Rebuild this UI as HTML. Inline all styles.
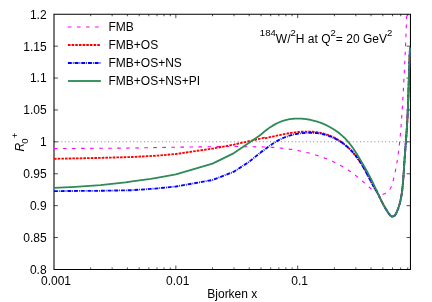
<!DOCTYPE html>
<html><head><meta charset="utf-8"><style>
html,body{margin:0;padding:0;background:#fff}
svg{display:block}
svg{will-change:transform}
text{font-family:"Liberation Sans",sans-serif;font-size:12px;fill:#000}
.s{font-size:9.6px}
</style></head><body>
<svg width="432" height="302" viewBox="0 0 432 302">
<rect width="432" height="302" fill="#fff"/>
<path d="M54.0,141.8H410.45" stroke="#909090" stroke-width="1.1" stroke-dasharray="1.1,2.5" fill="none"/>
<path d="M54.0,14.25H410.45V269.45H54.0Z" stroke="#000" stroke-width="1.05" fill="none"/>
<path d="M54.00,237.55h3.9M410.45,237.55h-3.9M54.00,205.65h3.9M410.45,205.65h-3.9M54.00,173.75h3.9M410.45,173.75h-3.9M54.00,141.85h3.9M410.45,141.85h-3.9M54.00,109.95h3.9M410.45,109.95h-3.9M54.00,78.05h3.9M410.45,78.05h-3.9M54.00,46.15h3.9M410.45,46.15h-3.9M90.68,269.45v-2.0M90.68,14.25v2.0M112.14,269.45v-2.0M112.14,14.25v2.0M127.36,269.45v-2.0M127.36,14.25v2.0M139.17,269.45v-2.0M139.17,14.25v2.0M148.82,269.45v-2.0M148.82,14.25v2.0M156.98,269.45v-2.0M156.98,14.25v2.0M164.04,269.45v-2.0M164.04,14.25v2.0M170.27,269.45v-2.0M170.27,14.25v2.0M175.85,269.45v-3.9M175.85,14.25v3.9M212.53,269.45v-2.0M212.53,14.25v2.0M233.99,269.45v-2.0M233.99,14.25v2.0M249.21,269.45v-2.0M249.21,14.25v2.0M261.02,269.45v-2.0M261.02,14.25v2.0M270.67,269.45v-2.0M270.67,14.25v2.0M278.83,269.45v-2.0M278.83,14.25v2.0M285.89,269.45v-2.0M285.89,14.25v2.0M292.12,269.45v-2.0M292.12,14.25v2.0M297.70,269.45v-3.9M297.70,14.25v3.9M334.38,269.45v-2.0M334.38,14.25v2.0M355.84,269.45v-2.0M355.84,14.25v2.0M371.06,269.45v-2.0M371.06,14.25v2.0M382.87,269.45v-2.0M382.87,14.25v2.0M392.52,269.45v-2.0M392.52,14.25v2.0M400.68,269.45v-2.0M400.68,14.25v2.0M407.74,269.45v-2.0M407.74,14.25v2.0" stroke="#000" stroke-width="0.7" fill="none"/>
<path d="M54.00,148.60 L132.00,148.05 L158.00,147.50 L205.00,146.80 L233.00,146.45 L260.00,146.90 L260.00,146.90 L261.10,146.89 L262.10,146.91 L263.11,146.93 L264.11,146.96 L265.12,147.00 L266.12,147.03 L267.12,147.08 L268.13,147.12 L269.13,147.17 L270.14,147.22 L271.14,147.28 L272.14,147.35 L273.15,147.41 L274.15,147.48 L275.15,147.56 L276.15,147.64 L277.15,147.72 L278.16,147.81 L279.16,147.91 L280.16,148.00 L281.16,148.11 L282.16,148.21 L283.15,148.33 L284.15,148.44 L285.15,148.56 L286.15,148.69 L287.14,148.82 L288.14,148.96 L289.14,149.10 L290.13,149.24 L291.12,149.39 L292.12,149.55 L293.11,149.71 L294.10,149.88 L295.09,150.05 L296.08,150.23 L297.07,150.41 L298.06,150.60 L299.04,150.79 L300.03,150.99 L301.01,151.19 L301.99,151.40 L302.98,151.62 L303.96,151.84 L304.94,152.06 L305.91,152.30 L306.89,152.53 L307.87,152.78 L308.84,153.03 L309.81,153.28 L310.78,153.55 L311.75,153.81 L312.72,154.09 L313.68,154.37 L314.65,154.66 L315.61,154.95 L316.57,155.25 L317.52,155.55 L318.48,155.87 L319.43,156.19 L320.38,156.51 L321.33,156.84 L322.28,157.18 L323.22,157.53 L324.16,157.88 L325.10,158.24 L326.04,158.61 L326.97,158.98 L327.90,159.36 L328.83,159.75 L329.75,160.14 L330.68,160.54 L331.59,160.95 L332.51,161.37 L333.42,161.79 L334.33,162.22 L335.23,162.66 L336.13,163.11 L337.03,163.56 L337.92,164.02 L338.81,164.49 L339.70,164.97 L340.58,165.45 L341.46,165.94 L342.33,166.44 L343.20,166.95 L344.06,167.46 L344.92,167.99 L345.77,168.52 L346.62,169.06 L347.46,169.60 L348.30,170.16 L349.13,170.72 L349.96,171.29 L350.79,171.87 L351.60,172.45 L352.42,173.04 L353.22,173.64 L354.03,174.24 L354.83,174.85 L355.62,175.47 L356.41,176.09 L357.20,176.72 L357.98,177.35 L358.76,177.99 L359.53,178.63 L360.30,179.27 L361.07,179.92 L361.83,180.57 L362.60,181.23 L363.35,181.89 L364.11,182.55 L364.86,183.22 L365.61,183.89 L366.36,184.56 L367.11,185.23 L367.86,185.90 L368.60,186.58 L369.34,187.26 L370.08,187.94 L370.83,188.61 L371.57,189.28 L372.33,189.94 L373.10,190.59 L373.89,191.21 L374.70,191.80 L375.54,192.36 L376.41,192.87 L377.30,193.32" stroke="#ff00ff" stroke-width="1.1" stroke-dasharray="3.6,5.43" fill="none"/>
<path d="M377.30,193.32 L378.23,193.70 L379.19,194.00 L380.18,194.20 L381.18,194.29 L382.18,194.27 L383.18,194.15 L384.15,193.91 L385.09,193.55 L385.99,193.10 L386.83,192.54 L387.61,191.91 L388.33,191.22 L389.00,190.46 L389.60,189.66 L390.14,188.81 L390.63,187.94 L391.07,187.03 L391.47,186.11 L391.83,185.17 L392.16,184.22 L392.46,183.26 L392.74,182.29 L393.00,181.32 L393.25,180.35 L393.49,179.38 L393.73,178.40 L393.96,177.42 L394.19,176.44 L394.41,175.46 L394.63,174.48 L394.85,173.50 L395.06,172.52 L395.26,171.53 L395.46,170.55 L395.66,169.56 L395.85,168.58 L396.04,167.59 L396.22,166.60 L396.40,165.61 L396.58,164.62 L396.75,163.63 L396.92,162.64 L397.08,161.65 L397.24,160.66 L397.40,159.66 L397.55,158.67 L397.70,157.68 L397.85,156.68 L397.99,155.69 L398.13,154.69 L398.27,153.70 L398.40,152.70 L398.53,151.70 L398.65,150.70 L398.78,149.71 L398.90,148.71 L399.02,147.71 L399.13,146.71 L399.25,145.71 L399.36,144.71 L399.46,143.72 L399.57,142.72 L399.67,141.72 L399.78,140.72 L399.87,139.72 L399.97,138.72 L400.07,137.72 L400.16,136.71 L400.25,135.71 L400.34,134.71 L400.43,133.71 L400.52,132.71 L400.61,131.71 L400.69,130.71 L400.78,129.71 L400.86,128.70 L400.94,127.70 L401.02,126.70 L401.10,125.70 L401.18,124.70 L401.25,123.69 L401.33,122.69 L401.40,121.69 L401.48,120.69 L401.55,119.68 L401.62,118.68 L401.69,117.68 L401.76,116.68 L401.83,115.67 L401.90,114.67 L401.96,113.67 L402.03,112.66 L402.10,111.66 L402.16,110.66 L402.22,109.66 L402.29,108.65 L402.35,107.65 L402.41,106.65 L402.47,105.64 L402.53,104.64 L402.59,103.64 L402.65,102.63 L402.71,101.63 L402.77,100.63 L402.83,99.62 L402.88,98.62 L402.94,97.61 L403.00,96.61 L403.05,95.61 L403.11,94.60 L403.16,93.60 L403.22,92.60 L403.27,91.59 L403.33,90.59 L403.38,89.59 L403.44,88.58 L403.49,87.58 L403.55,86.57 L403.60,85.57 L403.65,84.57 L403.71,83.56 L403.76,82.56 L403.81,81.56 L403.86,80.55 L403.92,79.55 L403.97,78.55 L404.02,77.54 L404.07,76.54 L404.12,75.53 L404.18,74.53 L404.23,73.53 L404.28,72.52 L404.33,71.52 L404.38,70.51 L404.43,69.51 L404.48,68.51 L404.53,67.50 L404.58,66.50 L404.63,65.49 L404.68,64.49 L404.73,63.49 L404.77,62.48 L404.82,61.48 L404.87,60.48 L404.92,59.47 L404.96,58.47 L405.01,57.46 L405.06,56.46 L405.11,55.45 L405.15,54.45 L405.20,53.45 L405.24,52.44 L405.29,51.44 L405.33,50.43 L405.38,49.43 L405.42,48.43 L405.47,47.42 L405.51,46.42 L405.55,45.41 L405.59,44.41 L405.64,43.41 L405.68,42.40 L405.72,41.40 L405.76,40.39 L405.80,39.39 L405.85,38.38 L405.89,37.38 L405.93,36.38 L405.97,35.37 L406.00,34.37 L406.04,33.36 L406.08,32.36 L406.12,31.35 L406.16,30.35 L406.20,29.34 L406.23,28.34 L406.27,27.34 L406.31,26.33 L406.34,25.33 L406.38,24.32 L406.41,23.32 L406.45,22.31 L406.48,21.31 L406.52,20.30 L406.55,19.30 L406.58,18.29 L406.62,17.29 L406.65,16.29 L406.68,15.28 L406.71,14.28" stroke="#ff00ff" stroke-width="1.1" stroke-dasharray="3.6,5.44" stroke-dashoffset="3.73" fill="none"/>
<path d="M54.00,158.80 L100.40,157.90 L132.00,157.00 L158.00,155.60 L175.85,154.00 L212.50,148.60 L233.97,144.60 L248.80,141.25 L263.70,137.90 L263.70,138.18 L264.91,138.28 L265.90,138.07 L266.89,137.85 L267.87,137.63 L268.86,137.41 L269.85,137.19 L270.83,136.97 L271.82,136.75 L272.81,136.53 L273.79,136.31 L274.78,136.10 L275.77,135.88 L276.75,135.66 L277.74,135.45 L278.73,135.24 L279.72,135.03 L280.71,134.83 L281.70,134.63 L282.69,134.43 L283.68,134.23 L284.67,134.04 L285.66,133.86 L286.66,133.68 L287.65,133.50 L288.65,133.33 L289.65,133.16 L290.64,133.00 L291.64,132.85 L292.64,132.70 L293.64,132.56 L294.65,132.43 L295.65,132.31 L296.65,132.19 L297.66,132.08 L298.66,131.98 L299.67,131.89 L300.68,131.81 L301.68,131.74 L302.69,131.68 L303.70,131.63 L304.71,131.59 L305.72,131.57 L306.73,131.55 L307.74,131.55 L308.75,131.56 L309.76,131.58 L310.77,131.62 L311.78,131.67 L312.79,131.73 L313.80,131.81 L314.80,131.91 L315.81,132.02 L316.81,132.15 L317.81,132.29 L318.81,132.46 L319.80,132.64 L320.79,132.83 L321.78,133.05 L322.76,133.29 L323.74,133.54 L324.71,133.81 L325.68,134.11 L326.64,134.42 L327.59,134.75 L328.54,135.10 L329.48,135.47 L330.42,135.86 L331.34,136.26 L332.26,136.68 L333.17,137.12 L334.07,137.58 L334.97,138.05 L335.85,138.53 L336.73,139.03 L337.60,139.55 L338.46,140.08 L339.31,140.62 L340.15,141.18 L340.98,141.75 L341.81,142.34 L342.62,142.94 L343.43,143.55 L344.22,144.17 L345.01,144.81 L345.79,145.45 L346.55,146.11 L347.31,146.78 L348.06,147.46 L348.79,148.15 L349.52,148.85 L350.24,149.56 L350.94,150.29 L351.64,151.02 L352.32,151.76 L353.00,152.51 L353.66,153.28 L354.32,154.05 L354.96,154.83 L355.59,155.62 L356.21,156.41 L356.82,157.22 L357.42,158.03 L358.01,158.85 L358.59,159.68 L359.17,160.51 L359.73,161.35 L360.28,162.19 L360.83,163.04 L361.37,163.90 L361.90,164.76 L362.43,165.62 L362.95,166.49 L363.46,167.36 L363.97,168.23 L364.47,169.11 L364.96,169.99 L365.45,170.87 L365.94,171.76 L366.42,172.65 L366.90,173.53 L367.38,174.43 L367.85,175.32 L368.33,176.21 L368.79,177.11 L369.26,178.00 L369.73,178.90 L370.20,179.79 L370.66,180.69 L371.13,181.59 L371.60,182.48 L372.07,183.38 L372.53,184.27 L373.01,185.17 L373.48,186.06 L373.96,186.95 L374.44,187.84 L374.92,188.73 L375.41,189.61 L375.90,190.49 L376.73,190.90 L377.15,191.81 L377.57,192.73 L377.98,193.64 L378.40,194.55 L378.82,195.46 L379.24,196.37 L379.67,197.28 L380.10,198.19 L380.53,199.09 L380.97,199.99 L381.41,200.89 L381.86,201.79 L382.32,202.69 L382.78,203.57 L383.25,204.46 L383.73,205.34 L384.22,206.22 L384.71,207.09 L385.22,207.95 L385.74,208.81 L386.27,209.67 L386.80,210.52 L387.34,211.36 L387.88,212.21 L388.43,213.05 L389.00,213.87 L389.61,214.67 L390.28,215.41 L391.05,216.06 L391.95,216.47 L392.94,216.53 L393.86,216.14 L394.64,215.51 L395.29,214.75 L395.83,213.91 L396.30,213.02 L396.71,212.11 L397.11,211.19 L397.50,210.26 L397.86,209.33 L398.21,208.39 L398.54,207.44 L398.86,206.49 L399.16,205.53 L399.45,204.57 L399.72,203.60 L399.97,202.63 L400.22,201.66 L400.44,200.68 L400.66,199.70 L400.86,198.72 L401.05,197.74 L401.23,196.75 L401.41,195.76 L401.57,194.77 L401.72,193.78 L401.86,192.79 L401.99,191.79 L402.12,190.80 L402.24,189.80 L402.36,188.81 L402.47,187.81 L402.58,186.81 L402.68,185.81 L402.77,184.81 L402.87,183.82 L402.96,182.82 L403.04,181.82 L403.12,180.82 L403.20,179.82 L403.28,178.82 L403.35,177.82 L403.42,176.82 L403.49,175.82 L403.56,174.81 L403.63,173.81 L403.69,172.81 L403.76,171.81 L403.82,170.81 L403.88,169.81 L403.95,168.81 L404.01,167.81 L404.08,166.81 L404.14,165.80 L404.21,164.80 L404.27,163.80 L404.34,162.80 L404.41,161.80 L404.48,160.80 L404.55,159.80 L404.62,158.80 L404.70,157.80 L404.77,156.80 L404.84,155.80 L404.92,154.80 L404.99,153.80 L405.07,152.80 L405.14,151.80 L405.22,150.80 L405.29,149.80 L405.37,148.80 L405.44,147.80 L405.52,146.80 L405.59,145.79 L405.67,144.79 L405.74,143.79 L405.82,142.79 L405.89,141.79 L405.97,140.79 L406.04,139.79 L406.11,138.79 L406.19,137.79 L406.26,136.79 L406.33,135.79 L406.40,134.79 L406.47,133.79 L406.54,132.79 L406.61,131.79 L406.68,130.79 L406.75,129.79 L406.81,128.79 L406.88,127.78 L406.94,126.78 L407.00,125.78 L407.06,124.78 L407.12,123.78 L407.18,122.78 L407.24,121.78 L407.29,120.77 L407.35,119.77 L407.40,118.77 L407.45,117.77 L407.50,116.77 L407.55,115.77 L407.60,114.76 L407.65,113.76 L407.69,112.76 L407.74,111.76 L407.78,110.76 L407.83,109.75 L407.87,108.75 L407.91,107.75 L407.95,106.75 L407.99,105.74 L408.03,104.74 L408.07,103.74 L408.10,102.74 L408.14,101.73 L408.18,100.73 L408.21,99.73 L408.25,98.73 L408.28,97.72 L408.31,96.72 L408.35,95.72 L408.38,94.72 L408.41,93.71 L408.44,92.71 L408.48,91.71 L408.51,90.71 L408.54,89.70 L408.57,88.70 L408.60,87.70 L408.63,86.70 L408.66,85.69 L408.69,84.69 L408.72,83.69 L408.75,82.68 L408.78,81.68 L408.81,80.68 L408.84,79.68 L408.87,78.67 L408.90,77.67 L408.93,76.67 L408.96,75.67 L408.99,74.66 L409.02,73.66 L409.05,72.66 L409.08,71.65 L409.12,70.65 L409.15,69.65 L409.18,68.65 L409.21,67.64 L409.25,66.64 L409.28,65.64 L409.32,64.64 L409.35,63.63 L409.39,62.63 L409.43,61.63 L409.46,60.63 L409.50,59.62 L409.54,58.62 L409.58,57.62 L409.62,56.62 L409.66,55.62 L409.70,54.61 L409.75,53.61 L409.79,52.61 L409.83,51.61 L409.88,50.60 L409.93,49.60 L409.98,48.60 L410.03,47.60" stroke="#ff0000" stroke-width="1.85" stroke-dasharray="2.6,1.07" fill="none"/>
<path d="M54.00,191.10 L100.40,190.80 L132.00,190.20 L150.70,188.90 L158.00,188.30 L175.85,186.50 L212.50,180.00 L233.97,171.70 L248.80,162.00 L260.80,152.30 L260.80,152.36 L261.67,151.85 L262.46,151.23 L263.26,150.61 L264.06,149.99 L264.86,149.38 L265.67,148.77 L266.47,148.16 L267.29,147.56 L268.10,146.96 L268.92,146.37 L269.74,145.79 L270.57,145.21 L271.40,144.64 L272.24,144.08 L273.09,143.52 L273.94,142.98 L274.79,142.44 L275.65,141.91 L276.52,141.40 L277.40,140.89 L278.28,140.40 L279.17,139.92 L280.07,139.46 L280.97,139.01 L281.88,138.57 L282.80,138.15 L283.72,137.75 L284.66,137.36 L285.60,136.99 L286.54,136.64 L287.50,136.30 L288.45,135.98 L289.42,135.68 L290.39,135.39 L291.36,135.12 L292.34,134.87 L293.32,134.63 L294.30,134.41 L295.29,134.20 L296.28,134.01 L297.28,133.83 L298.27,133.66 L299.27,133.51 L300.27,133.38 L301.28,133.25 L302.28,133.15 L303.28,133.05 L304.29,132.97 L305.30,132.90 L306.31,132.84 L307.32,132.80 L308.33,132.77 L309.34,132.75 L310.35,132.75 L311.36,132.77 L312.36,132.80 L313.37,132.84 L314.38,132.90 L315.39,132.98 L316.39,133.08 L317.40,133.20 L318.40,133.33 L319.40,133.49 L320.39,133.66 L321.38,133.85 L322.37,134.06 L323.35,134.29 L324.33,134.54 L325.31,134.80 L326.28,135.08 L327.24,135.39 L328.20,135.70 L329.15,136.04 L330.10,136.39 L331.04,136.76 L331.97,137.15 L332.90,137.56 L333.81,137.98 L334.73,138.41 L335.63,138.86 L336.52,139.33 L337.41,139.82 L338.29,140.32 L339.16,140.83 L340.02,141.36 L340.87,141.90 L341.71,142.46 L342.54,143.04 L343.36,143.62 L344.17,144.23 L344.97,144.84 L345.76,145.47 L346.54,146.11 L347.31,146.77 L348.07,147.44 L348.81,148.12 L349.55,148.81 L350.27,149.52 L350.97,150.24 L351.67,150.97 L352.35,151.72 L353.03,152.47 L353.69,153.24 L354.33,154.01 L354.97,154.79 L355.60,155.59 L356.21,156.39 L356.82,157.20 L357.41,158.01 L358.00,158.84 L358.57,159.67 L359.14,160.50 L359.69,161.34 L360.24,162.19 L360.79,163.04 L361.32,163.90 L361.85,164.76 L362.37,165.63 L362.88,166.50 L363.39,167.37 L363.89,168.25 L364.39,169.12 L364.89,170.01 L365.37,170.89 L365.86,171.78 L366.34,172.66 L366.82,173.55 L367.30,174.44 L367.77,175.34 L368.24,176.23 L368.71,177.12 L369.18,178.02 L369.65,178.91 L370.12,179.81 L370.59,180.70 L371.06,181.59 L371.53,182.49 L372.00,183.38 L372.47,184.27 L372.95,185.16 L373.43,186.05 L373.91,186.94 L374.40,187.83 L374.89,188.71 L375.38,189.59 L375.88,190.47 L376.73,190.90 L377.15,191.81 L377.57,192.73 L377.98,193.64 L378.40,194.55 L378.82,195.46 L379.24,196.37 L379.67,197.28 L380.10,198.19 L380.53,199.09 L380.97,199.99 L381.41,200.89 L381.86,201.79 L382.32,202.69 L382.78,203.57 L383.25,204.46 L383.73,205.34 L384.22,206.22 L384.71,207.09 L385.22,207.95 L385.74,208.81 L386.27,209.67 L386.80,210.52 L387.34,211.36 L387.88,212.21 L388.43,213.05 L389.00,213.87 L389.61,214.67 L390.28,215.41 L391.05,216.06 L391.95,216.47 L392.94,216.53 L393.86,216.14 L394.64,215.51 L395.29,214.75 L395.83,213.91 L396.30,213.02 L396.71,212.11 L397.11,211.19 L397.50,210.26 L397.86,209.33 L398.21,208.39 L398.54,207.44 L398.86,206.49 L399.16,205.53 L399.45,204.57 L399.72,203.60 L399.97,202.63 L400.22,201.66 L400.44,200.68 L400.66,199.70 L400.86,198.72 L401.05,197.74 L401.23,196.75 L401.41,195.76 L401.57,194.77 L401.72,193.78 L401.86,192.79 L401.99,191.79 L402.12,190.80 L402.24,189.80 L402.36,188.81 L402.47,187.81 L402.58,186.81 L402.68,185.81 L402.77,184.81 L402.87,183.82 L402.96,182.82 L403.04,181.82 L403.12,180.82 L403.20,179.82 L403.28,178.82 L403.35,177.82 L403.42,176.82 L403.49,175.82 L403.56,174.81 L403.63,173.81 L403.69,172.81 L403.76,171.81 L403.82,170.81 L403.88,169.81 L403.95,168.81 L404.01,167.81 L404.08,166.81 L404.14,165.80 L404.21,164.80 L404.27,163.80 L404.34,162.80 L404.41,161.80 L404.48,160.80 L404.55,159.80 L404.62,158.80 L404.70,157.80 L404.77,156.80 L404.84,155.80 L404.92,154.80 L404.99,153.80 L405.07,152.80 L405.14,151.80 L405.22,150.80 L405.29,149.80 L405.37,148.80 L405.44,147.80 L405.52,146.80 L405.59,145.79 L405.67,144.79 L405.74,143.79 L405.82,142.79 L405.89,141.79 L405.97,140.79 L406.04,139.79 L406.11,138.79 L406.19,137.79 L406.26,136.79 L406.33,135.79 L406.40,134.79 L406.47,133.79 L406.54,132.79 L406.61,131.79 L406.68,130.79 L406.75,129.79 L406.81,128.79 L406.88,127.78 L406.94,126.78 L407.00,125.78 L407.06,124.78 L407.12,123.78 L407.18,122.78 L407.24,121.78 L407.29,120.77 L407.35,119.77 L407.40,118.77 L407.45,117.77 L407.50,116.77 L407.55,115.77 L407.60,114.76 L407.65,113.76 L407.69,112.76 L407.74,111.76 L407.78,110.76 L407.83,109.75 L407.87,108.75 L407.91,107.75 L407.95,106.75 L407.99,105.74 L408.03,104.74 L408.07,103.74 L408.10,102.74 L408.14,101.73 L408.18,100.73 L408.21,99.73 L408.25,98.73 L408.28,97.72 L408.31,96.72 L408.35,95.72 L408.38,94.72 L408.41,93.71 L408.44,92.71 L408.48,91.71 L408.51,90.71 L408.54,89.70 L408.57,88.70 L408.60,87.70 L408.63,86.70 L408.66,85.69 L408.69,84.69 L408.72,83.69 L408.75,82.68 L408.78,81.68 L408.81,80.68 L408.84,79.68 L408.87,78.67 L408.90,77.67 L408.93,76.67 L408.96,75.67 L408.99,74.66 L409.02,73.66 L409.05,72.66 L409.08,71.65 L409.12,70.65 L409.15,69.65 L409.18,68.65 L409.21,67.64 L409.25,66.64 L409.28,65.64 L409.32,64.64 L409.35,63.63 L409.39,62.63 L409.43,61.63 L409.46,60.63 L409.50,59.62 L409.54,58.62 L409.58,57.62 L409.62,56.62 L409.66,55.62 L409.70,54.61 L409.75,53.61 L409.79,52.61 L409.83,51.61 L409.88,50.60 L409.93,49.60 L409.98,48.60 L410.03,47.60" stroke="#0000ff" stroke-width="1.85" stroke-dasharray="3.9,1,0.8,1" fill="none"/>
<path d="M54.00,187.95 L75.20,186.90 L100.40,185.10 L125.50,182.40 L132.00,181.45 L150.70,178.80 L158.00,177.60 L175.85,174.40 L212.50,163.60 L233.97,153.10 L248.80,143.10 L260.80,134.70 L260.80,134.70 L261.54,134.02 L262.30,133.36 L263.06,132.70 L263.83,132.06 L264.60,131.42 L265.38,130.79 L266.17,130.17 L266.97,129.56 L267.78,128.97 L268.59,128.38 L269.41,127.80 L270.24,127.24 L271.08,126.69 L271.92,126.15 L272.78,125.62 L273.64,125.11 L274.51,124.61 L275.39,124.13 L276.28,123.66 L277.18,123.21 L278.08,122.78 L278.99,122.37 L279.92,121.97 L280.85,121.60 L281.78,121.24 L282.73,120.91 L283.68,120.60 L284.65,120.31 L285.61,120.04 L286.59,119.80 L287.57,119.58 L288.55,119.39 L289.54,119.21 L290.53,119.06 L291.52,118.93 L292.52,118.82 L293.52,118.73 L294.52,118.66 L295.52,118.60 L296.52,118.57 L297.53,118.56 L298.53,118.56 L299.53,118.58 L300.53,118.62 L301.54,118.68 L302.54,118.75 L303.54,118.84 L304.53,118.94 L305.53,119.06 L306.52,119.20 L307.52,119.34 L308.51,119.51 L309.49,119.69 L310.48,119.88 L311.46,120.09 L312.44,120.31 L313.41,120.55 L314.38,120.80 L315.35,121.06 L316.31,121.34 L317.27,121.64 L318.23,121.95 L319.18,122.27 L320.12,122.60 L321.06,122.95 L322.00,123.32 L322.93,123.69 L323.85,124.08 L324.77,124.48 L325.68,124.90 L326.59,125.33 L327.49,125.78 L328.38,126.23 L329.27,126.70 L330.15,127.18 L331.02,127.68 L331.89,128.19 L332.74,128.71 L333.59,129.24 L334.44,129.78 L335.27,130.34 L336.09,130.91 L336.91,131.50 L337.72,132.09 L338.52,132.70 L339.31,133.32 L340.09,133.95 L340.86,134.59 L341.62,135.24 L342.37,135.91 L343.11,136.59 L343.84,137.27 L344.56,137.97 L345.26,138.68 L345.96,139.41 L346.65,140.14 L347.32,140.88 L347.98,141.64 L348.63,142.40 L349.27,143.17 L349.90,143.96 L350.52,144.74 L351.13,145.54 L351.73,146.35 L352.32,147.16 L352.90,147.97 L353.47,148.80 L354.04,149.63 L354.60,150.46 L355.15,151.30 L355.69,152.14 L356.23,152.99 L356.77,153.84 L357.29,154.69 L357.82,155.54 L358.34,156.40 L358.85,157.26 L359.36,158.12 L359.87,158.99 L360.38,159.85 L360.89,160.72 L361.39,161.59 L361.90,162.46 L362.40,163.32 L362.90,164.19 L363.40,165.06 L363.90,165.93 L364.40,166.80 L364.90,167.67 L365.39,168.55 L365.88,169.42 L366.37,170.29 L366.86,171.17 L367.35,172.05 L367.83,172.93 L368.31,173.81 L368.79,174.69 L369.26,175.58 L369.73,176.46 L370.20,177.35 L370.66,178.24 L371.11,179.13 L371.57,180.03 L372.02,180.93 L372.46,181.83 L372.90,182.73 L373.34,183.63 L373.77,184.53 L374.20,185.44 L374.63,186.35 L375.05,187.26 L375.48,188.17 L375.90,189.08 L376.31,189.99 L376.73,190.90 L377.15,191.81 L377.57,192.73 L377.98,193.64 L378.40,194.55 L378.82,195.46 L379.24,196.37 L379.67,197.28 L380.10,198.19 L380.53,199.09 L380.97,199.99 L381.41,200.89 L381.86,201.79 L382.32,202.69 L382.78,203.57 L383.25,204.46 L383.73,205.34 L384.22,206.22 L384.71,207.09 L385.22,207.95 L385.74,208.81 L386.27,209.67 L386.80,210.52 L387.34,211.36 L387.88,212.21 L388.43,213.05 L389.00,213.87 L389.61,214.67 L390.28,215.41 L391.05,216.06 L391.95,216.47 L392.94,216.53 L393.86,216.14 L394.64,215.51 L395.29,214.75 L395.83,213.91 L396.30,213.02 L396.71,212.11 L397.11,211.19 L397.50,210.26 L397.86,209.33 L398.21,208.39 L398.54,207.44 L398.86,206.49 L399.16,205.53 L399.45,204.57 L399.72,203.60 L399.97,202.63 L400.22,201.66 L400.44,200.68 L400.66,199.70 L400.86,198.72 L401.05,197.74 L401.23,196.75 L401.41,195.76 L401.57,194.77 L401.72,193.78 L401.86,192.79 L401.99,191.79 L402.12,190.80 L402.24,189.80 L402.36,188.81 L402.47,187.81 L402.58,186.81 L402.68,185.81 L402.77,184.81 L402.87,183.82 L402.96,182.82 L403.04,181.82 L403.12,180.82 L403.20,179.82 L403.28,178.82 L403.35,177.82 L403.42,176.82 L403.49,175.82 L403.56,174.81 L403.63,173.81 L403.69,172.81 L403.76,171.81 L403.82,170.81 L403.88,169.81 L403.95,168.81 L404.01,167.81 L404.08,166.81 L404.14,165.80 L404.21,164.80 L404.27,163.80 L404.34,162.80 L404.41,161.80 L404.48,160.80 L404.55,159.80 L404.62,158.80 L404.70,157.80 L404.77,156.80 L404.84,155.80 L404.92,154.80 L404.99,153.80 L405.07,152.80 L405.14,151.80 L405.22,150.80 L405.29,149.80 L405.37,148.80 L405.44,147.80 L405.52,146.80 L405.59,145.79 L405.67,144.79 L405.74,143.79 L405.82,142.79 L405.89,141.79 L405.97,140.79 L406.04,139.79 L406.11,138.79 L406.19,137.79 L406.26,136.79 L406.33,135.79 L406.40,134.79 L406.47,133.79 L406.54,132.79 L406.61,131.79 L406.68,130.79 L406.75,129.79 L406.81,128.79 L406.88,127.78 L406.94,126.78 L407.00,125.78 L407.06,124.78 L407.12,123.78 L407.18,122.78 L407.24,121.78 L407.29,120.77 L407.35,119.77 L407.40,118.77 L407.45,117.77 L407.50,116.77 L407.55,115.77 L407.60,114.76 L407.65,113.76 L407.69,112.76 L407.74,111.76 L407.78,110.76 L407.83,109.75 L407.87,108.75 L407.91,107.75 L407.95,106.75 L407.99,105.74 L408.03,104.74 L408.07,103.74 L408.10,102.74 L408.14,101.73 L408.18,100.73 L408.21,99.73 L408.25,98.73 L408.28,97.72 L408.31,96.72 L408.35,95.72 L408.38,94.72 L408.41,93.71 L408.44,92.71 L408.48,91.71 L408.51,90.71 L408.54,89.70 L408.57,88.70 L408.60,87.70 L408.63,86.70 L408.66,85.69 L408.69,84.69 L408.72,83.69 L408.75,82.68 L408.78,81.68 L408.81,80.68 L408.84,79.68 L408.87,78.67 L408.90,77.67 L408.93,76.67 L408.96,75.67 L408.99,74.66 L409.02,73.66 L409.05,72.66 L409.08,71.65 L409.12,70.65 L409.15,69.65 L409.18,68.65 L409.21,67.64 L409.25,66.64 L409.28,65.64 L409.32,64.64 L409.35,63.63 L409.39,62.63 L409.43,61.63 L409.46,60.63 L409.50,59.62 L409.54,58.62 L409.58,57.62 L409.62,56.62 L409.66,55.62 L409.70,54.61 L409.75,53.61 L409.79,52.61 L409.83,51.61 L409.88,50.60 L409.93,49.60 L409.98,48.60 L410.03,47.60" stroke="#2e8b57" stroke-width="1.8" fill="none" stroke-linejoin="round"/>
<path d="M67.9,27H100.9" stroke="#ff00ff" stroke-width="1.1" stroke-dasharray="3.6,5.45" fill="none"/>
<path d="M67.9,45.05H100.9" stroke="#ff0000" stroke-width="1.9" stroke-dasharray="2.6,1.07" fill="none"/>
<path d="M67.9,62.95H100.9" stroke="#0000ff" stroke-width="1.9" stroke-dasharray="3.9,1,0.8,1" fill="none"/>
<rect x="67.9" y="80.08" width="33" height="1.84" fill="#2e8b57"/>
<text x="46.6" y="273.8" text-anchor="end">0.8</text>
<text x="46.6" y="241.9" text-anchor="end">0.85</text>
<text x="46.6" y="210.0" text-anchor="end">0.9</text>
<text x="46.6" y="178.1" text-anchor="end">0.95</text>
<text x="46.6" y="146.2" text-anchor="end">1</text>
<text x="46.6" y="114.3" text-anchor="end">1.05</text>
<text x="46.6" y="82.4" text-anchor="end">1.1</text>
<text x="46.6" y="50.5" text-anchor="end">1.15</text>
<text x="46.6" y="18.6" text-anchor="end">1.2</text>
<text x="56.0" y="285.4" text-anchor="middle">0.001</text>
<text x="177.8" y="285.4" text-anchor="middle">0.01</text>
<text x="299.7" y="285.4" text-anchor="middle">0.1</text>

<text x="108.5" y="30.6">FMB</text>
<text x="108.5" y="48.7">FMB+OS</text>
<text x="108.5" y="66.8">FMB+OS+NS</text>
<text x="108.5" y="84.8">FMB+OS+NS+PI</text>
<text x="259.8" y="42.6"><tspan class="s" dy="-6.5">184</tspan><tspan dy="6.5">W/</tspan><tspan class="s" dy="-6.5">2</tspan><tspan dy="6.5">H at Q</tspan><tspan class="s" dy="-6.5">2</tspan><tspan dy="6.5">= 20 GeV</tspan><tspan class="s" dy="-6.5">2</tspan></text>
<text x="232.3" y="297.8" text-anchor="middle">Bjorken x</text>
<text transform="translate(24.1,151.6) rotate(-90)"><tspan font-style="italic">R</tspan><tspan class="s" dx="-0.9" dy="3.7">0</tspan><tspan class="s" dx="0.2" dy="-9.4">+</tspan></text>
</svg>
</body></html>
